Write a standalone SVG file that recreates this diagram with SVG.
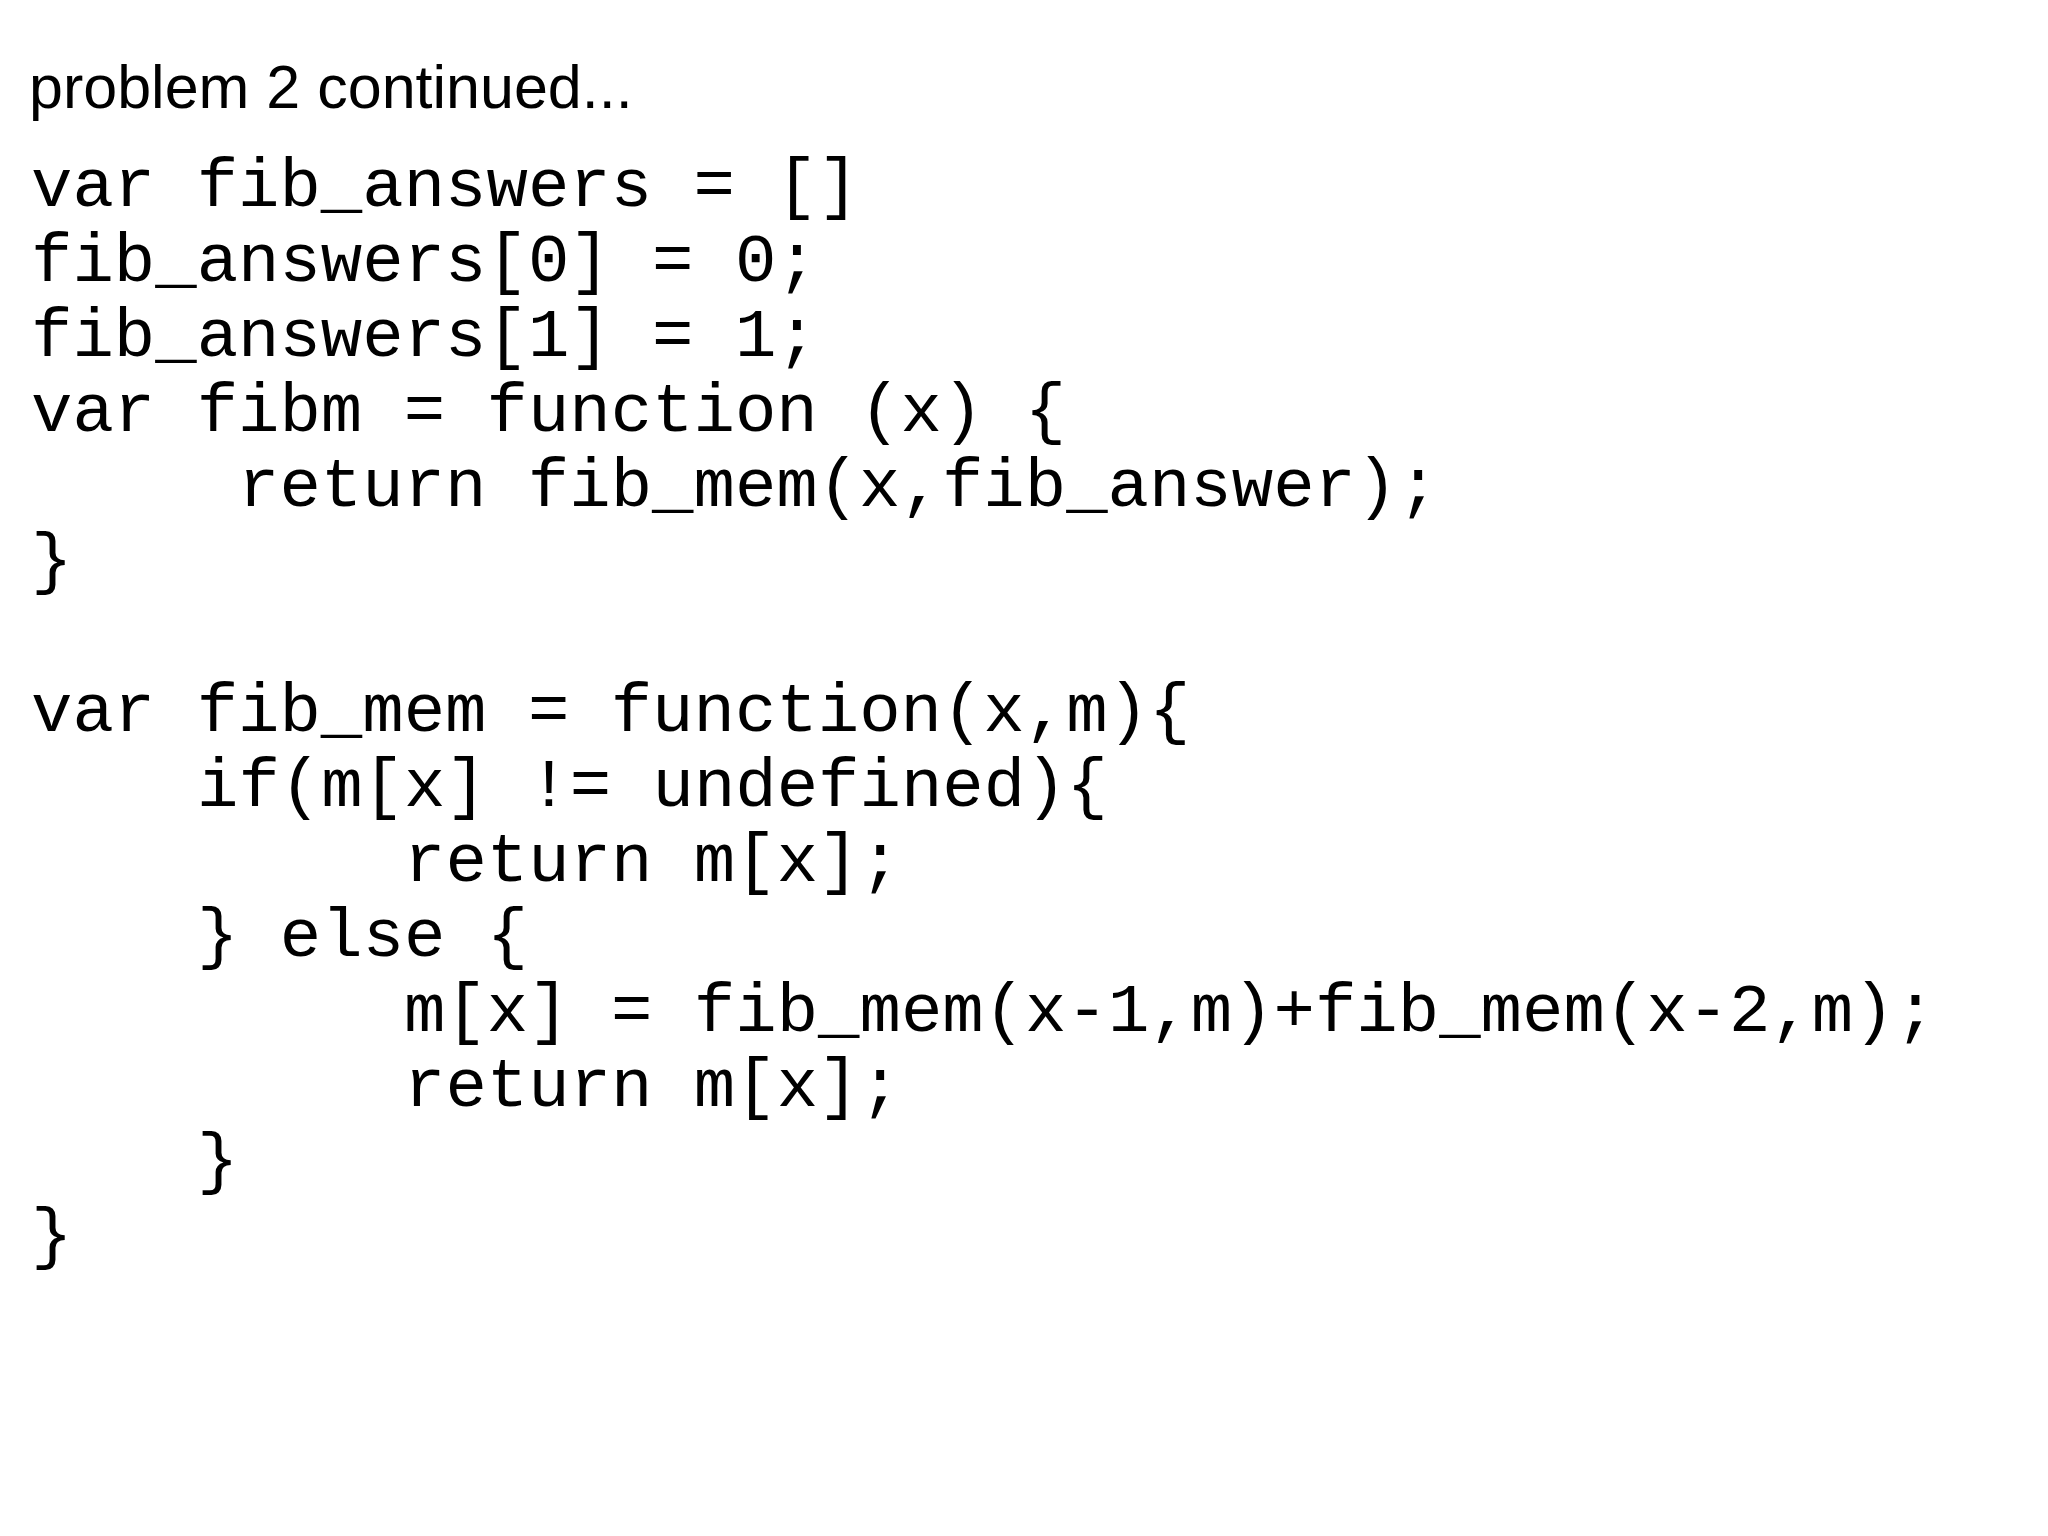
<svg xmlns="http://www.w3.org/2000/svg" width="2048" height="1536" viewBox="0 0 2048 1536">
<style>
.t{font-family:"Liberation Sans",Arial,sans-serif;font-size:61px;fill:#000}
.c{font-family:"Liberation Mono","Courier New",monospace;font-size:69px;fill:#000;white-space:pre}
</style>
<rect width="2048" height="1536" fill="#fff"/>
<g id="title"><text class="t" x="29" y="108">problem 2 continued...</text></g>
<g id="code">
<text class="c" x="31" y="206">var fib_answers = []</text>
<text class="c" x="31" y="281">fib_answers[0] = 0;</text>
<text class="c" x="31" y="356">fib_answers[1] = 1;</text>
<text class="c" x="31" y="431">var fibm = function (x) {</text>
<text class="c" x="238" y="506">return fib_mem(x,fib_answer);</text>
<text class="c" x="31" y="581">}</text>
<text class="c" x="31" y="731">var fib_mem = function(x,m){</text>
<text class="c" x="197" y="806">if(m[x] != undefined){</text>
<text class="c" x="404" y="881">return m[x];</text>
<text class="c" x="197" y="956">} else {</text>
<text class="c" x="404" y="1031">m[x] = fib_mem(x-1,m)+fib_mem(x-2,m);</text>
<text class="c" x="404" y="1106">return m[x];</text>
<text class="c" x="197" y="1181">}</text>
<text class="c" x="31" y="1256">}</text>
</g>
</svg>
